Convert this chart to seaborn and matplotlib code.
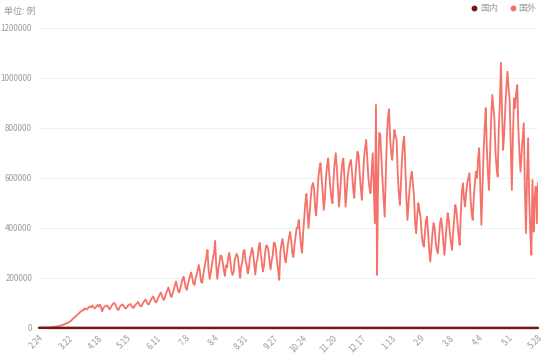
import matplotlib
matplotlib.use("Agg")
import matplotlib.pyplot as plt
from matplotlib.lines import Line2D
import seaborn as sns
import pandas as pd

# ---- data ----
tick_labels = ['2.24', '3.22', '4.18', '5.15', '6.11', '7.8', '8.4', '8.31', '9.27',
               '10.24', '11.20', '12.17', '1.13', '2.9', '3.8', '4.4', '5.1', '5.28']
series_names = ['国内', '国外']

# 国外 daily new cases (thousands), one row per week starting Mon 2020-02-24
foreign_k = [
    0.2, 0.3, 0.4, 0.5, 0.7, 0.9, 1.0,
    1.3, 1.6, 1.9, 2.2, 2.6, 3.0, 3.2,
    4.0, 4.6, 5.5, 6.4, 7.5, 8.2, 9.0,
    11, 12, 14, 16, 18, 20, 21,
    25, 27, 31, 36, 40, 44, 46,
    52, 55, 60, 64, 68, 71, 70,
    78, 76, 74, 79, 84, 86, 82,
    90, 84, 78, 82, 88, 92, 85,
    93, 84, 66, 78, 84, 88, 90,
    88, 80, 74, 82, 90, 96, 100,
    95, 84, 74, 72, 82, 88, 92,
    94, 86, 80, 78, 84, 90, 93,
    96, 88, 82, 80, 88, 94, 98,
    104, 96, 88, 86, 94, 102, 108,
    114, 104, 96, 94, 104, 112, 120,
    126, 116, 104, 102, 114, 124, 134,
    142, 130, 116, 112, 126, 138, 150,
    162, 146, 128, 124, 140, 154, 170,
    186, 166, 148, 142, 160, 176, 194,
    205, 184, 160, 152, 176, 192, 210,
    222, 200, 178, 172, 196, 214, 232,
    252, 226, 186, 180, 210, 236, 262,
    284, 312, 230, 196, 220, 250, 280,
    300, 348, 250, 196, 236, 262, 290,
    286, 262, 230, 208, 250, 242, 280,
    300, 268, 228, 212, 224, 270, 288,
    296, 282, 240, 200, 246, 262, 306,
    312, 270, 252, 218, 236, 280, 298,
    320, 300, 254, 214, 260, 276, 318,
    340, 296, 262, 226, 248, 300, 330,
    326, 312, 270, 234, 268, 290, 340,
    340, 312, 262, 230, 192, 300, 336,
    356, 326, 280, 262, 300, 334, 362,
    384, 350, 300, 284, 330, 366, 400,
    400, 432, 380, 330, 300, 380, 440,
    500, 536, 470, 400, 460, 520, 565,
    580, 560, 480, 450, 520, 600, 640,
    659, 600, 540, 472, 520, 600, 650,
    678, 620, 560, 520, 499, 600, 660,
    699, 640, 560, 485, 540, 610, 660,
    678, 600, 485, 540, 600, 640, 660,
    672, 620, 560, 520, 600, 660, 705,
    690, 620, 560, 512, 600, 680, 720,
    752, 680, 600, 560, 539, 620, 699,
    560, 419, 892, 212, 600, 780, 772,
    680, 592, 520, 445, 600, 760, 840,
    875, 760, 700, 672, 740, 792, 770,
    752, 620, 540, 492, 580, 680, 740,
    765, 640, 520, 432, 500, 560, 600,
    625, 580, 525, 420, 379, 450, 499,
    470, 445, 380, 340, 325, 380, 430,
    445, 380, 310, 265, 320, 380, 419,
    400, 340, 310, 299, 360, 420, 439,
    400, 340, 292, 350, 410, 459, 430,
    380, 340, 312, 380, 440, 492, 470,
    420, 370, 332, 450, 540, 579, 520,
    485, 540, 580, 600, 619, 520, 460,
    432, 520, 580, 625, 600, 680, 719,
    560, 412, 560, 700, 800, 879, 720,
    620, 552, 700, 840, 932, 880, 832,
    700, 640, 605, 800, 900, 1061, 860,
    712, 780, 880, 960, 1025, 960, 912,
    740, 552, 760, 919, 880, 940, 972,
    800, 700, 625, 700, 760, 819, 560,
    379, 600, 759, 520, 380, 292, 592,
    385, 520, 565, 419, 579,
]

# 国内 daily new cases, by month
dom_2020_02 = [409, 508, 406, 433, 327, 427]
dom_2020_03 = [573, 202, 125, 119, 139, 143, 99, 44, 40, 19, 24, 15, 11, 20, 16, 21, 13, 34, 39, 41,
               46, 39, 78, 47, 67, 55, 54, 45, 31, 48, 36]
dom_2020_04 = [35, 31, 19, 30, 39, 32, 62, 46, 42, 99, 46, 108, 89, 46, 27, 26, 18, 16, 12, 11,
               12, 11, 10, 6, 11, 3, 6, 22, 4, 6]
dom_2020_05 = [12, 2, 3, 1, 2, 2, 4, 1, 14, 5, 17, 7, 4, 8, 5, 9, 5, 7, 6, 5,
               4, 3, 2, 3, 7, 11, 7, 2, 2, 4, 2]
dom_2020_06 = [16, 5, 5, 7, 5, 4, 6, 3, 3, 11, 11, 11, 57, 49, 40, 44, 21, 28, 32, 26,
               25, 18, 22, 19, 13, 22, 17, 14, 19, 12]
dom_2020_07 = [3, 3, 5, 3, 8, 3, 5, 7, 7, 3, 3, 8, 7, 6, 6, 11, 5, 13, 22, 11,
               14, 13, 22, 21, 46, 61, 68, 64, 101, 105, 127]
dom_2020_08 = [45, 49, 36, 37, 27, 33, 23, 22, 23, 19, 25, 17, 19, 24, 22, 22, 22, 11, 15, 22,
               22, 14, 14, 20, 15, 17, 9, 9, 14, 10, 16]
dom_2020_09 = [5, 8, 11, 10, 10, 6, 6, 7, 10, 8, 9, 13, 6, 13, 17, 10, 32, 14, 12, 20,
               11, 13, 7, 17, 8, 15, 20, 12, 9, 21]
dom_2020_10 = [15, 16, 8, 10, 16, 12, 12, 12, 9, 8, 29, 14, 22, 13, 24, 15, 13, 21, 24, 15,
               20, 23, 28, 23, 28, 40, 49, 44, 23, 24, 30]
dom_2020_11 = [24, 35, 21, 33, 22, 31, 32, 35, 34, 16, 17, 18, 15, 14, 26, 22, 16, 32, 16, 19,
               26, 36, 18, 26, 34, 11, 14, 14, 14, 24]
dom_2020_12 = [8, 13, 20, 15, 16, 16, 10, 7, 14, 16, 13, 24, 18, 14, 19, 20, 20, 24, 17, 23,
               16, 23, 12, 26, 20, 24, 15, 22, 17, 23, 17]
dom_2021_01 = [22, 33, 24, 33, 32, 63, 53, 37, 33, 103, 55, 115, 138, 144, 138, 109, 118, 109, 103, 118,
               144, 103, 107, 80, 79, 75, 55, 54, 36, 92, 33]
dom_2021_02 = [42, 29, 33, 19, 20, 20, 22, 18, 14, 16, 11, 13, 14, 14, 11, 10, 7, 6, 11, 7,
               8, 11, 8, 10, 11, 12, 15, 13]
dom_2021_03 = [9, 10, 6, 10, 12, 9, 9, 13, 17, 7, 10, 5, 16, 11, 16, 10, 15, 19, 17, 7,
               15, 13, 9, 10, 10, 15, 19, 13, 10, 12, 32]
dom_2021_04 = [32, 21, 15, 16, 26, 18, 17, 24, 20, 22, 10, 20, 20, 20, 15, 7, 13, 16, 16, 21,
               10, 22, 12, 16, 12, 16, 12, 18, 20, 15]
dom_2021_05 = [10, 13, 15, 8, 14, 10, 19, 11, 13, 12, 10, 11, 15, 16, 17, 29, 20, 16, 14, 12,
               16, 14, 22, 13, 19, 13, 19, 14]

domestic = (dom_2020_02 + dom_2020_03 + dom_2020_04 + dom_2020_05 + dom_2020_06 + dom_2020_07 +
            dom_2020_08 + dom_2020_09 + dom_2020_10 + dom_2020_11 + dom_2020_12 + dom_2021_01 +
            dom_2021_02 + dom_2021_03 + dom_2021_04 + dom_2021_05)
foreign = [v * 1000 for v in foreign_k]

n = min(len(domestic), len(foreign))
domestic = domestic[:n]
foreign = foreign[:n]

df = pd.DataFrame({
    'day': list(range(n)) * 2,
    'cases': domestic + foreign,
    'series': [series_names[0]] * n + [series_names[1]] * n,
})

# ---- style ----
sns.set_style('white')
plt.rcParams['font.family'] = ['Noto Sans CJK SC', 'DejaVu Sans']

c_dom = '#7a1418'
c_for = '#f4726a'
gray = '#9b9b9b'

fig = plt.figure(figsize=(5.5, 3.58), dpi=100)
ax = fig.add_axes([0.071, 0.084, 0.907, 0.838])

sns.lineplot(data=df[df.series == '国外'], x='day', y='cases', color=c_for,
             linewidth=1.3, ax=ax, legend=False, zorder=3)
sns.lineplot(data=df[df.series == '国内'], x='day', y='cases', color=c_dom,
             linewidth=1.8, ax=ax, legend=False, zorder=4)
ax.lines[-1].set_clip_on(False)

ax.set_xlim(0, n - 1)
ax.set_ylim(0, 1200000)
ax.set_yticks(range(0, 1200001, 200000))
ax.set_yticklabels([str(v) for v in range(0, 1200001, 200000)])
ax.set_xticks(range(0, n, 27)[:len(tick_labels)])
ax.set_xticklabels(tick_labels, rotation=45, ha='right', rotation_mode='anchor')
ax.tick_params(axis='both', length=0, labelsize=5.8, labelcolor=gray)
ax.tick_params(axis='y', pad=5)
ax.tick_params(axis='x', pad=4)
ax.set_xlabel('')
ax.set_ylabel('')
ax.grid(axis='y', color='#f1f1f1', linewidth=0.8)
ax.set_axisbelow(True)
for s in ax.spines.values():
    s.set_visible(False)

fig.text(0.008, 0.982, '单位: 例', fontsize=6.5, color=gray, ha='left', va='top')

handles = [Line2D([], [], marker='o', linestyle='', color=c_dom, markersize=3.2),
           Line2D([], [], marker='o', linestyle='', color=c_for, markersize=3.2)]
fig.legend(handles, series_names, loc='upper right', bbox_to_anchor=(0.99, 1.012), ncol=2,
           frameon=False, fontsize=6.5, labelcolor=gray, handletextpad=0.05, columnspacing=1.0,
           handlelength=1.2)

fig.savefig('out.png', dpi=100)
